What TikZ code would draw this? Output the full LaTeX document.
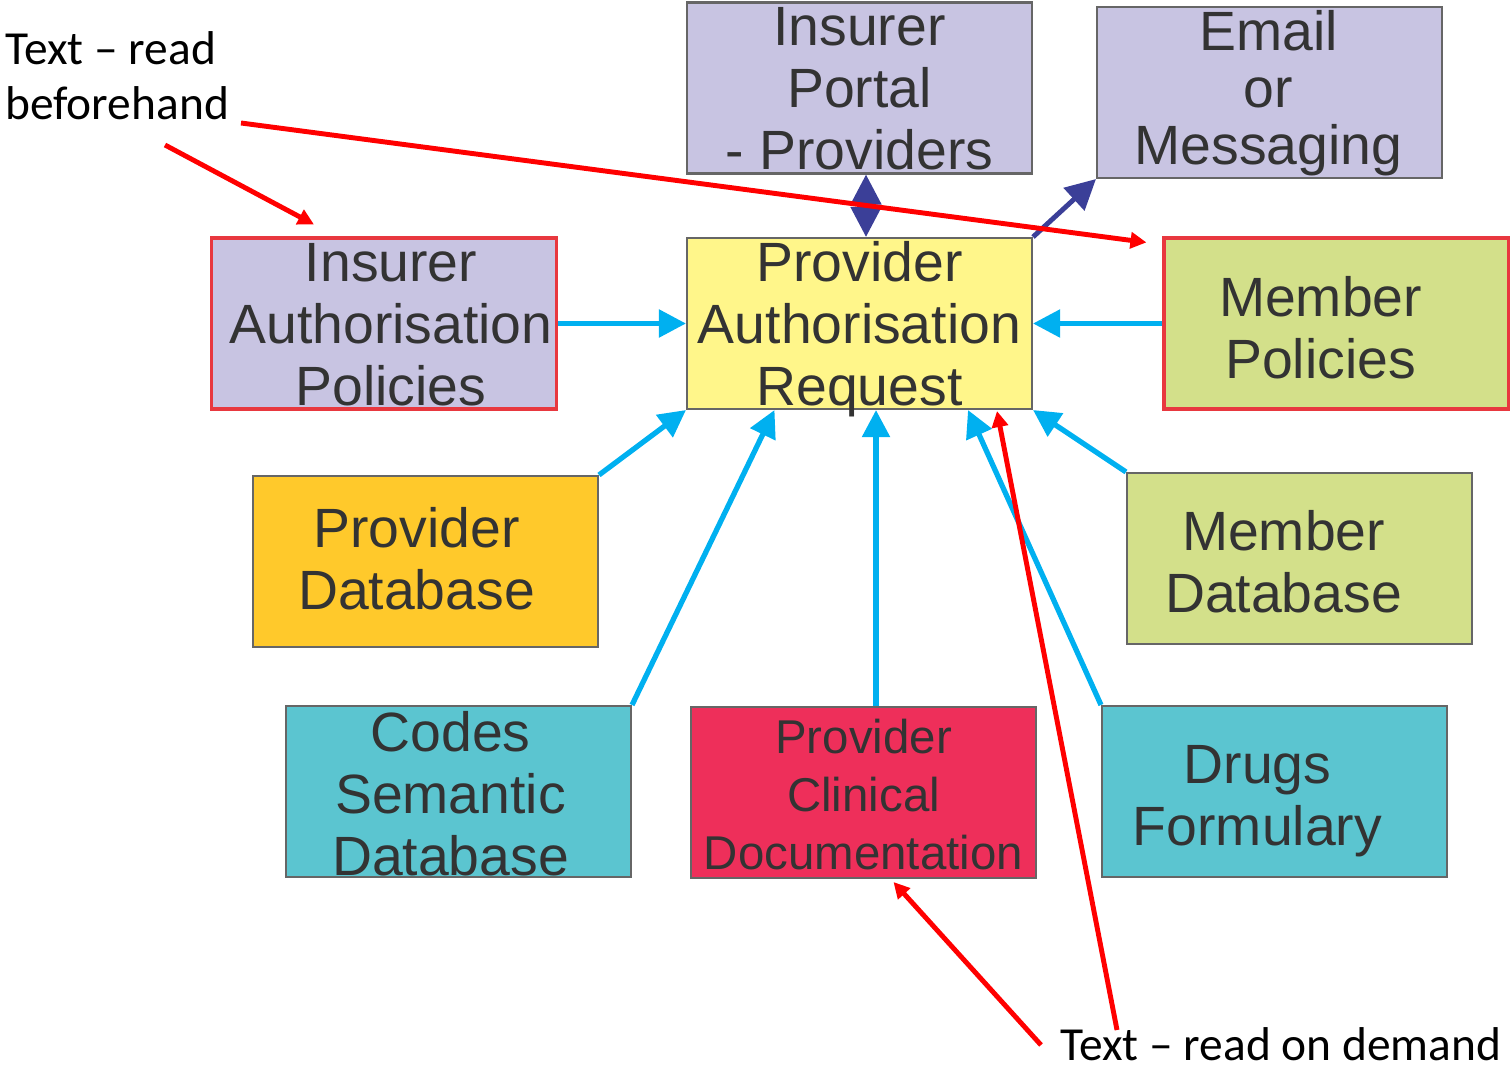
\documentclass[tikz,border=0pt]{standalone}
\usepackage{fontspec}
\setmainfont{Liberation Sans}
\newfontfamily\notefont{Carlito}
\usetikzlibrary{arrows.meta,calc}

\definecolor{lavender}{HTML}{C8C4E2}
\definecolor{lemon}{HTML}{FFF68A}
\definecolor{lime}{HTML}{D3E08A}
\definecolor{amber}{HTML}{FFC92B}
\definecolor{aqua}{HTML}{5BC5D0}
\definecolor{crimson}{HTML}{EE2F5A}
\definecolor{feedblue}{HTML}{00B0F0}
\definecolor{linkblue}{HTML}{3B3F98}
\definecolor{edgered}{HTML}{E8383F}
\definecolor{edgegrey}{HTML}{666666}
\definecolor{ink}{HTML}{333333}

\tikzset{
  box/.style={draw=edgegrey, line width=1.2pt, minimum width=6.9cm,
    minimum height=3.42cm, inner sep=0pt},
  keybox/.style={box, draw=edgered, line width=1.8pt},
  boxtext/.style={text=ink, align=center, inner sep=0pt, text depth=0pt,
    font=\fontsize{31.5}{35.3}\selectfont},
  linktip/.tip={Triangle[length=0.6cm,width=0.6cm]},
  feed/.style={draw=feedblue, line width=3pt,
    -{Triangle[length=0.54cm,width=0.54cm]}},
  link/.style={draw=linkblue, line width=2.8pt},
  note/.style={draw=red, line width=2.8pt,
    -{Triangle[length=0.32cm,width=0.32cm]}},
  notetext/.style={inner sep=0pt, align=left, text depth=0pt,
    font=\notefont\fontsize{27}{31.3}\selectfont}
}

\begin{document}
\begin{tikzpicture}[x=0.02cm,y=-0.02cm]
  \useasboundingbox (0,0) rectangle (1510,1067);

  % boxes
  \node[box, fill=lavender] (portal) at (859.5,88) {};
  \node[box, fill=lavender] (email) at (1269.5,92.5) {};
  \node[keybox, fill=lavender] (iap) at (384,323.5) {};
  \node[box, fill=lemon] (par) at (859.5,323.5) {};
  \node[keybox, fill=lime] (mpol) at (1336.5,323.5) {};
  \node[box, fill=amber] (pdb) at (425.5,561.5) {};
  \node[box, fill=lime] (mdb) at (1299.5,558.5) {};
  \node[box, fill=aqua] (codes) at (458.5,791.5) {};
  \node[box, fill=crimson] (clin) at (863.5,792.5) {};
  \node[box, fill=aqua] (drugs) at (1274.5,791.5) {};

  % box texts
  \node[boxtext] (portal-t) at (portal) {Insurer\\Portal\\- Providers};
  \node[boxtext, font=\fontsize{31.5}{32.5}\selectfont] (email-t)
    at ($(email)+(-1,-5)$) {Email\\or\\Messaging};
  \node[boxtext] (iap-t) at ($(iap)+(7,1)$) {Insurer\\Authorisation\\Policies};
  \node[boxtext] (par-t) at (par) {Provider\\Authorisation\\Request};
  \node[boxtext] (mpol-t) at ($(mpol)+(-16,4)$) {Member\\Policies};
  \node[boxtext] (pdb-t) at ($(pdb)+(-9,-3)$) {Provider\\Database};
  \node[boxtext] (mdb-t) at ($(mdb)+(-16,3)$) {Member\\Database};
  \node[boxtext] (codes-t) at ($(codes)+(-8,2)$) {Codes\\Semantic\\Database};
  \node[boxtext, font=\fontsize{27}{33}\selectfont] (clin-t)
    at ($(clin)+(0,2)$) {Provider\\Clinical\\Documentation};
  \node[boxtext] (drugs-t) at ($(drugs)+(-17,4)$) {Drugs\\Formulary};

  % sources feeding the request
  \draw[feed] (iap.east) -- (par.west);
  \draw[feed] (mpol.west) -- (par.east);
  \draw[feed] (pdb.north east) -- (par.south west);
  \draw[feed] (codes.north east) -- ($(par.south)+(-85,0)$);
  \draw[feed] ($(clin.north)+(12.5,0)$) -- ($(par.south)+(16.5,0)$);
  \draw[feed] (drugs.north west) -- ($(par.south)+(108.5,0)$);
  \draw[feed] (mdb.north west) -- (par.south east);

  % portal and messaging
  \draw[link, linktip-linktip] ($(portal.south)+(6.5,0)$) -- ($(par.north)+(6.5,0)$);
  \draw[link, -linktip] (par.north east) -- (email.south west);

  % annotations
  \node[notetext, anchor=north west] (early) at (5,31) {Text – read\\beforehand};
  \node[notetext, anchor=base west] (late) at (1060,1060) {Text – read on demand};
  \coordinate (early-a) at (165,145);
  \coordinate (early-b) at (241,123);
  \coordinate (late-a) at (1041,1045);
  \coordinate (late-b) at (1117,1030);
  \draw[note] (early-a) -- ($(iap.north west)+(104,-12)$);
  \draw[note] (early-b) -- ($(mpol.north west)+(-16,6)$);
  \draw[note] (late-a) -- ($(clin.south)+(30,3)$);
  \draw[note] (late-b) -- ($(par.south)+(137.5,1)$);
\end{tikzpicture}
\end{document}
